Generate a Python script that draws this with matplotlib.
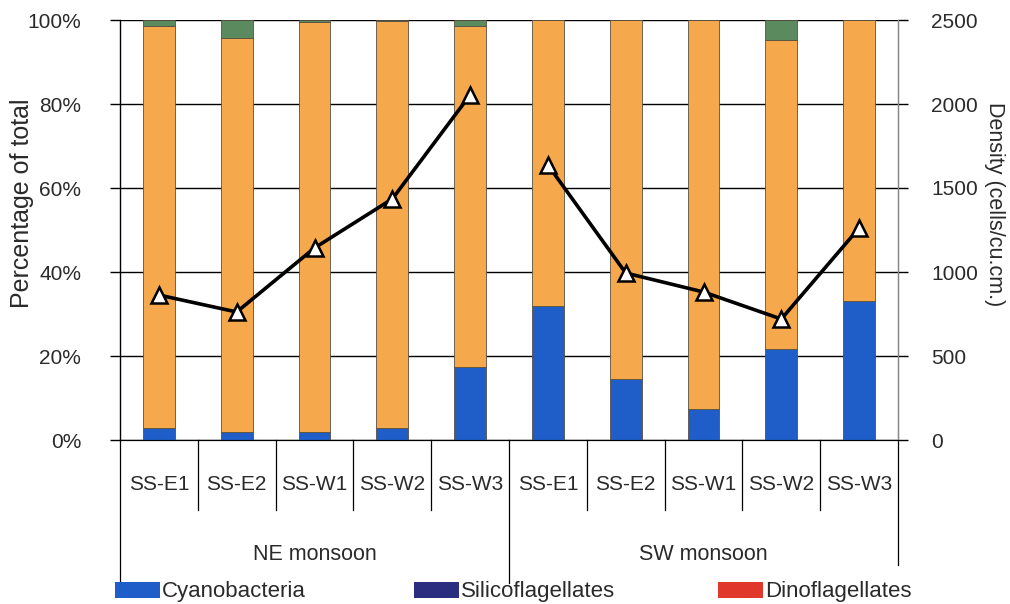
import matplotlib
matplotlib.use("Agg")
import matplotlib.pyplot as plt
import matplotlib.transforms as mtransforms
from matplotlib.patches import Rectangle
from matplotlib.lines import Line2D
import numpy as np

plt.rcParams['font.family'] = ['Liberation Sans', 'DejaVu Sans']

stations = ["SS-E1", "SS-E2", "SS-W1", "SS-W2", "SS-W3",
            "SS-E1", "SS-E2", "SS-W1", "SS-W2", "SS-W3"]
seasons = ["NE monsoon", "SW monsoon"]

cyanobacteria = [2.9, 2.0, 2.0, 2.8, 17.4, 32.0, 14.5, 7.4, 21.6, 33.0]
silicoflagellates = [0, 0, 0, 0, 0, 0, 0, 0, 0, 0]
dinoflagellates = [0, 0, 0, 0, 0, 0, 0, 0, 0, 0]
others = [1.4, 4.3, 0.5, 0.2, 1.4, 0, 0, 0, 4.8, 0]
diatoms = [100 - c - s - d - o for c, s, d, o in
           zip(cyanobacteria, silicoflagellates, dinoflagellates, others)]
density = [863, 762, 1143, 1435, 2054, 1637, 994, 881, 720, 1262]

pct_ticks = [0, 20, 40, 60, 80, 100]
density_ticks = [0, 500, 1000, 1500, 2000, 2500]

c_cyano = "#1f5ec8"
c_silico = "#2b2e7e"
c_dino = "#e0392b"
c_diatom = "#f6a84c"
c_other = "#5b8a5e"
edge = "#5a5040"
txt = "#2a2a2a"

fig = plt.figure(figsize=(10.1, 6.04), dpi=100)
ax = fig.add_axes([120/1010, 1-440/604, (898-120)/1010, 420/604])
x = np.arange(len(stations))
w = 0.41
bottom = np.zeros(len(x))
for vals, col in [(cyanobacteria, c_cyano), (silicoflagellates, c_silico),
                  (dinoflagellates, c_dino), (diatoms, c_diatom), (others, c_other)]:
    v = np.array(vals, dtype=float)
    ax.bar(x, v, w, bottom=bottom, color=col, edgecolor=edge, linewidth=0.6, zorder=3)
    bottom += v

ax.set_xlim(-0.5, len(x) - 0.5)
ax.set_ylim(0, 100)
ax.set_yticks(pct_ticks)
ax.set_yticklabels([f"{v}%" for v in pct_ticks], fontsize=15, color=txt)
ax.yaxis.grid(True, color="black", linewidth=1.0, zorder=0)
ax.set_xticks([])
ax.tick_params(axis='y', length=7, width=1, pad=21)
ax.spines["top"].set_visible(False)
ax.spines["left"].set_linewidth(1.0)
ax.spines["right"].set_linewidth(1.0)
ax.spines["right"].set_color("#888888")

ax2 = ax.twinx()
ax2.set_ylim(0, 2500)
ax2.set_yticks(density_ticks)
ax2.tick_params(axis='y', length=7, width=1, labelsize=15, labelcolor=txt, pad=17)
for seg in (slice(0, 5), slice(5, 10)):
    ax2.plot(x[seg], density[seg], color="black", linewidth=2.6, marker="^",
             markersize=12, markerfacecolor="white", markeredgecolor="black",
             markeredgewidth=1.8, zorder=5)
for s in ["top", "left"]:
    ax2.spines[s].set_visible(False)
ax2.spines["right"].set_color("#888888")

fig.text(22/1010, 1-203/604, "Percentage of total", rotation=90, ha="center",
         va="center", fontsize=18, color=txt)
fig.text(994/1010, 1-204/604, "Density (cells/cu.cm.)", rotation=270, ha="center",
         va="center", fontsize=15.5, color=txt)

# multi-level category axis
trans = mtransforms.blended_transform_factory(ax.transData, ax.transAxes)
def ya(p):
    return (440 - p) / 420
for i in range(len(x)):
    ax.text(x[i], ya(484), stations[i], transform=trans, ha="center", va="center",
            fontsize=15, color=txt)
for i in range(len(x) - 1):
    if i == 4:
        continue
    ax.add_line(Line2D([i + 0.5, i + 0.5], [0, ya(510)], transform=trans,
                       color="black", linewidth=0.9, clip_on=False))
for xx, yend in [(-0.5, 583), (4.5, 583), (len(x) - 0.5, 565)]:
    ax.add_line(Line2D([xx, xx], [0, ya(yend)], transform=trans,
                       color="black", linewidth=0.9, clip_on=False))
ax.text(2, ya(554), seasons[0], transform=trans, ha="center", va="center",
        fontsize=15.5, color=txt)
ax.text(7, ya(554), seasons[1], transform=trans, ha="center", va="center",
        fontsize=15.5, color=txt)

# legend
legend_items = [("Cyanobacteria", c_cyano, 115), ("Silicoflagellates", c_silico, 414),
                ("Dinoflagellates", c_dino, 718)]
for name, col, px in legend_items:
    fig.patches.append(Rectangle((px/1010, 1-598/604), 45/1010, 16/604,
                                 transform=fig.transFigure, facecolor=col,
                                 edgecolor="none"))
    fig.text((px+47)/1010, 1-591/604, name, ha="left", va="center",
             fontsize=16, color=txt)

fig.savefig("out.png", dpi=100)
